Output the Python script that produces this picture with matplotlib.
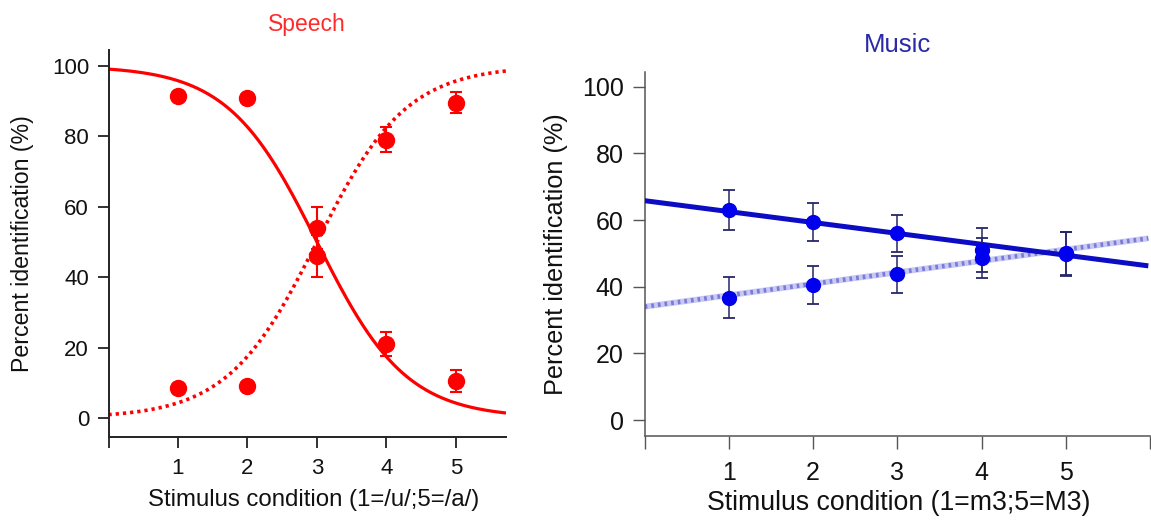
import numpy as np
import matplotlib
matplotlib.use("Agg")
import matplotlib.pyplot as plt

plt.rcParams['font.family'] = ['Liberation Sans', 'DejaVu Sans']

# ---------------- data ----------------
conditions = [1, 2, 3, 4, 5]

# Speech (percent identification)
speech_u = [91.5, 91.0, 54.0, 21.0, 10.5]
speech_u_err = [1.0, 1.0, 6.0, 3.5, 3.0]
speech_a = [8.5, 9.0, 46.0, 79.0, 89.5]
speech_a_err = [1.0, 1.0, 6.0, 3.5, 3.0]
# logistic fit parameters (midpoint, slope)
speech_u_fit = (3.0, 1.56)
speech_a_fit = (3.0, 1.55)

# Music (percent identification)
music_m3 = [63.0, 59.3, 56.0, 51.0, 50.0]
music_m3_err = [6.0, 5.7, 5.5, 6.5, 6.5]
music_M3 = [36.7, 40.5, 43.7, 48.5, 49.8]
music_M3_err = [6.2, 5.6, 5.5, 6.0, 6.5]
# linear fit parameters (intercept, slope)
music_m3_fit = (65.8, -3.27)
music_M3_fit = (34.0, 3.43)

x_ticks = [0, 1, 2, 3, 4, 5]
x_ticklabels = ['', '1', '2', '3', '4', '5']
y_ticks = [0, 20, 40, 60, 80, 100]

# ---------------- figure ----------------
W, H = 1151, 523
fig = plt.figure(figsize=(W / 100, H / 100), dpi=100)

def px_axes(x0, y0, x1, y1):
    return fig.add_axes([x0 / W, 1 - y1 / H, (x1 - x0) / W, (y1 - y0) / H])

# ---- Speech panel ----
red = '#ff0000'
ax1 = px_axes(108.5, 50, 506, 437)
ax1.set_xlim(0, 5.72)
ax1.set_ylim(-5.4, 104.5)
xs = np.linspace(0, 5.72, 300)
m, k = speech_u_fit
ax1.plot(xs, 100 / (1 + np.exp(k * (xs - m))), color=red, lw=2.3, solid_capstyle='butt')
m, k = speech_a_fit
ax1.plot(xs, 100 / (1 + np.exp(-k * (xs - m))), color=red, lw=2.6,
         linestyle=(0, (0.9, 1.1)))
ax1.errorbar(conditions, speech_u, yerr=speech_u_err, fmt='o', color=red,
             ms=11.5, elinewidth=1.5, capsize=4, capthick=1.5, zorder=5)
ax1.errorbar(conditions, speech_a, yerr=speech_a_err, fmt='o', color=red,
             ms=11.5, elinewidth=1.5, capsize=4, capthick=1.5, zorder=5)

for s in ['top', 'right']:
    ax1.spines[s].set_visible(False)
for s in ['left', 'bottom']:
    ax1.spines[s].set_color('#222222')
    ax1.spines[s].set_linewidth(1.4)
ax1.set_xticks(x_ticks)
ax1.set_xticklabels(x_ticklabels)
ax1.set_yticks(y_ticks)
ax1.tick_params(axis='both', direction='out', length=8, width=1.3,
                color='#222222', labelsize=16, labelcolor='#111111')
ax1.tick_params(axis='y', pad=6)
ax1.tick_params(axis='x', pad=7)
ax1.set_title('Speech', color='#ff2a2a', fontsize=16.5, pad=14)
ax1.set_xlabel('Stimulus condition (1=/u/;5=/a/)', fontsize=17.3, color='#111111')
ax1.set_ylabel('Percent identification (%)', fontsize=16.7, color='#111111')
ax1.xaxis.label.set_verticalalignment('center')
ax1.yaxis.label.set_verticalalignment('center')
ax1.xaxis.set_label_coords(0.517, -0.163)
ax1.yaxis.set_label_coords(-0.2176, 0.5)

# ---- Music panel ----
blue_dark = '#0c0cc4'
blue_mark = '#0000ee'
ax2 = px_axes(644.7, 71.7, 1150, 436)
ax2.set_xlim(0, 5.98)
ax2.set_ylim(-4.8, 104.5)
xl = np.linspace(0, 5.98, 50)
b0, b1 = music_M3_fit
ax2.plot(xl, b0 + b1 * xl, color='#c8c8f4', lw=4.2, solid_capstyle='butt', zorder=2)
ax2.plot(xl, b0 + b1 * xl, color='#7a7ad8', lw=3.2, linestyle=(0, (0.6, 0.9)), zorder=2)
b0, b1 = music_m3_fit
ax2.plot(xl, b0 + b1 * xl, color=blue_dark, lw=3.6, solid_capstyle='butt', zorder=3)
ax2.errorbar(conditions, music_M3, yerr=music_M3_err, fmt='none', ecolor='#26266a',
             elinewidth=1.1, capsize=4, capthick=1.3, zorder=4)
ax2.errorbar(conditions, music_m3, yerr=music_m3_err, fmt='none', ecolor='#26266a',
             elinewidth=1.1, capsize=4, capthick=1.3, zorder=4)
ax2.plot(conditions, music_M3, 'o', color=blue_mark, ms=10, zorder=5)
ax2.plot(conditions, music_m3, 'o', color=blue_mark, ms=10, zorder=5)

for s in ['top', 'right']:
    ax2.spines[s].set_visible(False)
for s in ['left', 'bottom']:
    ax2.spines[s].set_color('#555555')
    ax2.spines[s].set_linewidth(1.1)
ax2.set_xticks(x_ticks + [6])
ax2.set_xticklabels(x_ticklabels + [''])
ax2.set_yticks(y_ticks)
ax2.tick_params(axis='both', direction='out', length=9, width=1.0,
                color='#555555', labelsize=18, labelcolor='#111111')
ax2.tick_params(axis='y', pad=6)
ax2.tick_params(axis='x', pad=9)
ax2.set_title('Music', color='#2a2aa8', fontsize=18.5, pad=14)
ax2.set_xlabel('Stimulus condition (1=m3;5=M3)', fontsize=19.2, color='#111111')
ax2.set_ylabel('Percent identification (%)', fontsize=18.2, color='#111111')
ax2.xaxis.label.set_verticalalignment('center')
ax2.yaxis.label.set_verticalalignment('center')
ax2.xaxis.set_label_coords(0.502, -0.184)
ax2.yaxis.set_label_coords(-0.175, 0.5)

fig.savefig('out.png', dpi=100)
